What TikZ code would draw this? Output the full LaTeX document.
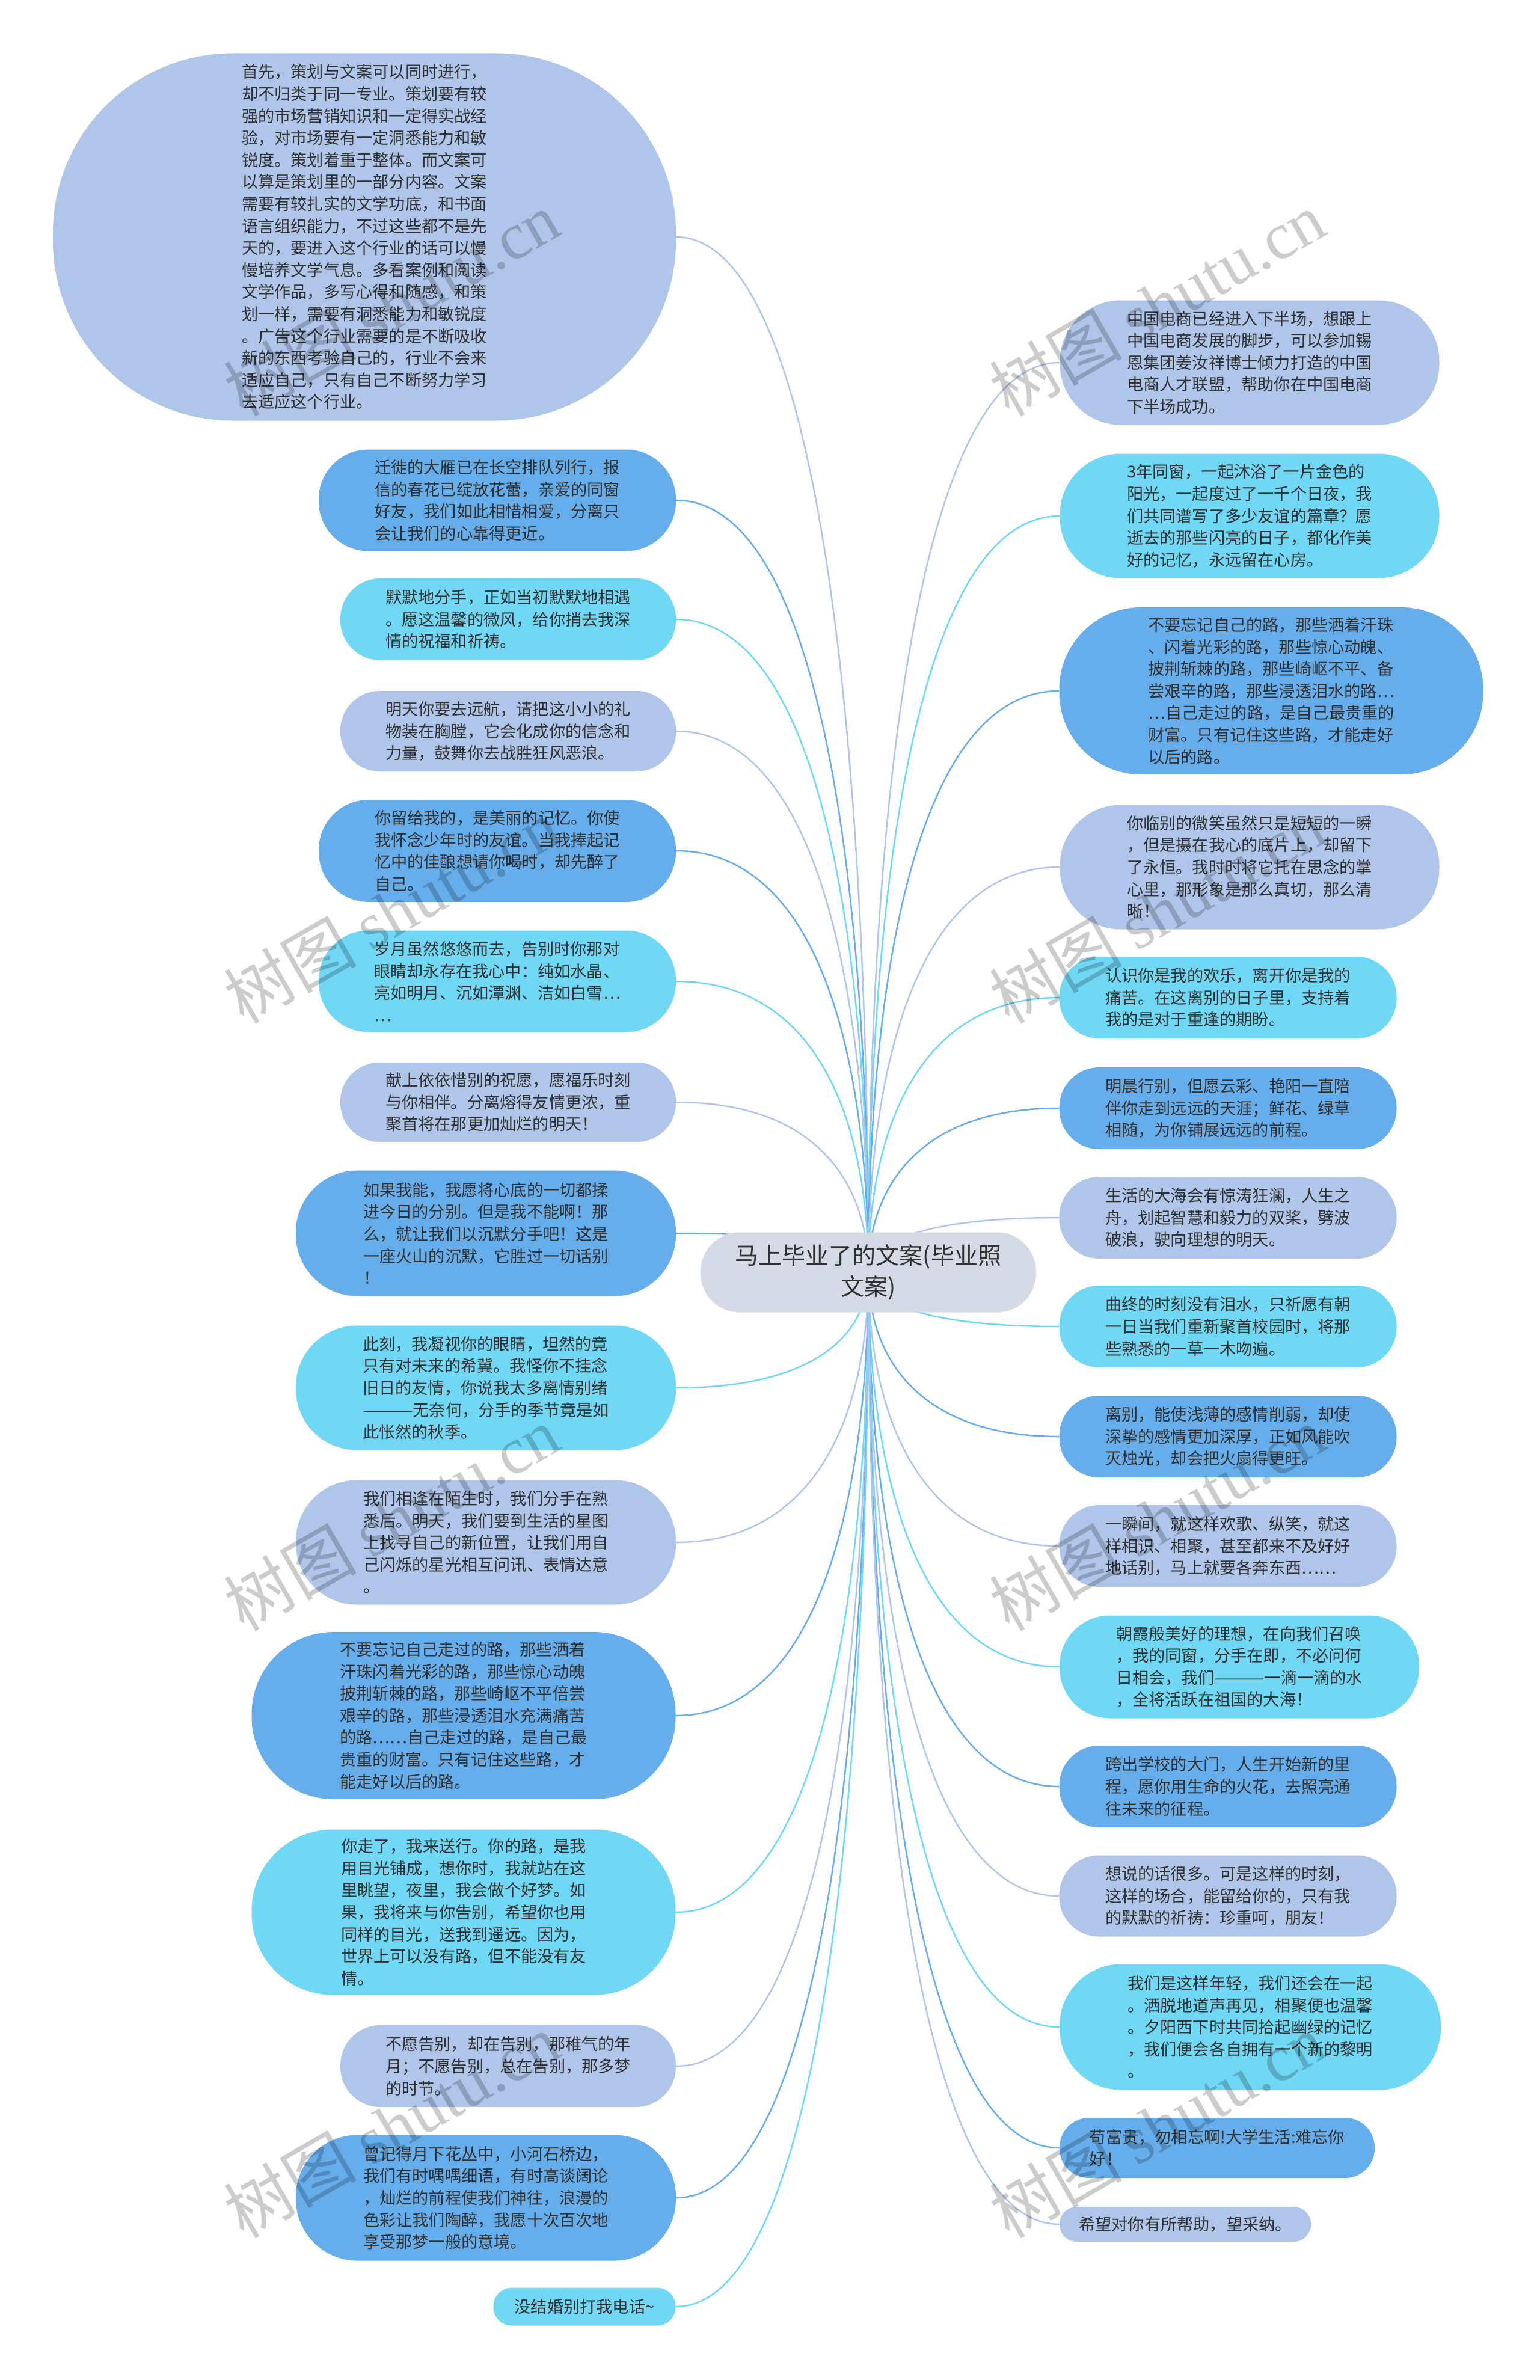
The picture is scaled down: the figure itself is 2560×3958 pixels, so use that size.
\documentclass[tikz,border=0pt]{standalone}
\usepackage{fontspec}
\usepackage{graphicx}
\setmainfont{Noto Sans CJK SC}
\newfontfamily\wmserif{Liberation Serif}
\usetikzlibrary{backgrounds,calc}
\definecolor{peri}{HTML}{AFC6EA}
\definecolor{mblue}{HTML}{66ADEC}
\definecolor{cyanb}{HTML}{70D8F5}
\definecolor{ctrc}{HTML}{D4DBE6}
\definecolor{txt}{HTML}{303030}
\newcommand\longdash{\scalebox{1.25}[1]{———}}
\begin{document}
\begin{tikzpicture}[x=1pt,y=-1pt,
  bub/.style n args={3}{fill=#3, inner sep=0pt, minimum width=#1pt, minimum height=#2pt,
    rounded corners=#2*0.49pt, align=left, text=txt, font=\fontsize{27.2}{36.6}\selectfont},
  link/.style={line width=2.5pt},
  wm/.style={rotate=30, text=black, text opacity=0.2, inner sep=0pt, font=\fontsize{110}{110}\selectfont}
]
\useasboundingbox (0,0) rectangle (2560,3958);

% centre
\node[bub={558}{133}{ctrc}, align=center, font=\fontsize{39}{52}\selectfont] (ctr) at (1444,2116) {马上毕业了的文案(毕业照\\文案)};

% left column
\node[bub={1036}{611}{peri}] (L1) at (606,394) {首先，策划与文案可以同时进行，\\却不归类于同一专业。策划要有较\\强的市场营销知识和一定得实战经\\验，对市场要有一定洞悉能力和敏\\锐度。策划着重于整体。而文案可\\以算是策划里的一部分内容。文案\\需要有较扎实的文学功底，和书面\\语言组织能力，不过这些都不是先\\天的，要进入这个行业的话可以慢\\慢培养文学气息。多看案例和阅读\\文学作品，多写心得和随感，和策\\划一样，需要有洞悉能力和敏锐度\\。广告这个行业需要的是不断吸收\\新的东西考验自己的，行业不会来\\适应自己，只有自己不断努力学习\\去适应这个行业。};
\node[bub={594}{169}{mblue}] (L2) at (827,832) {迁徙的大雁已在长空排队列行，报\\信的春花已绽放花蕾，亲爱的同窗\\好友，我们如此相惜相爱，分离只\\会让我们的心靠得更近。};
\node[bub={558}{136}{cyanb}] (L3) at (845,1030) {默默地分手，正如当初默默地相遇\\。愿这温馨的微风，给你捎去我深\\情的祝福和祈祷。};
\node[bub={558}{134}{peri}] (L4) at (845,1216) {明天你要去远航，请把这小小的礼\\物装在胸膛，它会化成你的信念和\\力量，鼓舞你去战胜狂风恶浪。};
\node[bub={594}{170}{mblue}] (L5) at (827,1415) {你留给我的，是美丽的记忆。你使\\我怀念少年时的友谊。当我捧起记\\忆中的佳酿想请你喝时，却先醉了\\自己。};
\node[bub={594}{169}{cyanb}] (L6) at (827,1632) {岁月虽然悠悠而去，告别时你那对\\眼睛却永存在我心中：纯如水晶、\\亮如明月、沉如潭渊、洁如白雪…\\…};
\node[bub={558}{132}{peri}] (L7) at (845,1833) {献上依依惜别的祝愿，愿福乐时刻\\与你相伴。分离熔得友情更浓，重\\聚首将在那更加灿烂的明天！};
\node[bub={632}{209}{mblue}] (L8) at (808,2051) {如果我能，我愿将心底的一切都揉\\进今日的分别。但是我不能啊！那\\么，就让我们以沉默分手吧！这是\\一座火山的沉默，它胜过一切话别\\！};
\node[bub={632}{207}{cyanb}] (L9) at (808,2308) {此刻，我凝视你的眼睛，坦然的竟\\只有对未来的希冀。我怪你不挂念\\旧日的友情，你说我太多离情别绪\\\longdash 无奈何，分手的季节竟是如\\此怅然的秋季。};
\node[bub={632}{207}{peri}] (L10) at (808,2565) {我们相逢在陌生时，我们分手在熟\\悉后。明天，我们要到生活的星图\\上找寻自己的新位置，让我们用自\\己闪烁的星光相互问讯、表情达意\\。};
\node[bub={705}{278}{mblue}] (L11) at (771,2853) {不要忘记自己走过的路，那些洒着\\汗珠闪着光彩的路，那些惊心动魄\\披荆斩棘的路，那些崎岖不平倍尝\\艰辛的路，那些浸透泪水充满痛苦\\的路……自己走过的路，是自己最\\贵重的财富。只有记住这些路，才\\能走好以后的路。};
\node[bub={705}{275}{cyanb}] (L12) at (771,3180) {你走了，我来送行。你的路，是我\\用目光铺成，想你时，我就站在这\\里眺望，夜里，我会做个好梦。如\\果，我将来与你告别，希望你也用\\同样的目光，送我到遥远。因为，\\世界上可以没有路，但不能没有友\\情。};
\node[bub={558}{136}{peri}] (L13) at (845,3436) {不愿告别，却在告别，那稚气的年\\月；不愿告别，总在告别，那多梦\\的时节。};
\node[bub={632}{209}{mblue}] (L14) at (808,3655) {曾记得月下花丛中，小河石桥边，\\我们有时喁喁细语，有时高谈阔论\\，灿烂的前程使我们神往，浪漫的\\色彩让我们陶醉，我愿十次百次地\\享受那梦一般的意境。};
\node[bub={303}{63}{cyanb}] (L15) at (972,3836) {没结婚别打我电话\textasciitilde};

% right column
\node[bub={631}{207}{peri}] (R1) at (2078,603) {中国电商已经进入下半场，想跟上\\中国电商发展的脚步，可以参加锡\\恩集团姜汝祥博士倾力打造的中国\\电商人才联盟，帮助你在中国电商\\下半场成功。};
\node[bub={631}{207}{cyanb}] (R2) at (2078,858) {3年同窗，一起沐浴了一片金色的\\阳光，一起度过了一千个日夜，我\\们共同谱写了多少友谊的篇章？愿\\逝去的那些闪亮的日子，都化作美\\好的记忆，永远留在心房。};
\node[bub={705}{278}{mblue}] (R3) at (2114,1149) {不要忘记自己的路，那些洒着汗珠\\、闪着光彩的路，那些惊心动魄、\\披荆斩棘的路，那些崎岖不平、备\\尝艰辛的路，那些浸透泪水的路…\\…自己走过的路，是自己最贵重的\\财富。只有记住这些路，才能走好\\以后的路。};
\node[bub={631}{207}{peri}] (R4) at (2078,1442) {你临别的微笑虽然只是短短的一瞬\\，但是摄在我心的底片上，却留下\\了永恒。我时时将它托在思念的掌\\心里，那形象是那么真切，那么清\\晰！};
\node[bub={561}{136}{cyanb}] (R5) at (2042,1659) {认识你是我的欢乐，离开你是我的\\痛苦。在这离别的日子里，支持着\\我的是对于重逢的期盼。};
\node[bub={561}{136}{mblue}] (R6) at (2042,1843) {明晨行别，但愿云彩、艳阳一直陪\\伴你走到远远的天涯；鲜花、绿草\\相随，为你铺展远远的前程。};
\node[bub={561}{136}{peri}] (R7) at (2042,2025) {生活的大海会有惊涛狂澜，人生之\\舟，划起智慧和毅力的双桨，劈波\\破浪，驶向理想的明天。};
\node[bub={561}{136}{cyanb}] (R8) at (2042,2206) {曲终的时刻没有泪水，只祈愿有朝\\一日当我们重新聚首校园时，将那\\些熟悉的一草一木吻遍。};
\node[bub={561}{136}{mblue}] (R9) at (2042,2389) {离别，能使浅薄的感情削弱，却使\\深挚的感情更加深厚，正如风能吹\\灭烛光，却会把火扇得更旺。};
\node[bub={561}{136}{peri}] (R10) at (2042,2571) {一瞬间，就这样欢歌、纵笑，就这\\样相识、相聚，甚至都来不及好好\\地话别，马上就要各奔东西……};
\node[bub={598}{171}{cyanb}] (R11) at (2061,2772) {朝霞般美好的理想，在向我们召唤\\，我的同窗，分手在即，不必问何\\日相会，我们\longdash 一滴一滴的水\\，全将活跃在祖国的大海！};
\node[bub={561}{136}{mblue}] (R12) at (2042,2971) {跨出学校的大门，人生开始新的里\\程，愿你用生命的火花，去照亮通\\往未来的征程。};
\node[bub={561}{135}{peri}] (R13) at (2042,3153) {想说的话很多。可是这样的时刻，\\这样的场合，能留给你的，只有我\\的默默的祈祷：珍重呵，朋友！};
\node[bub={634}{209}{cyanb}] (R14) at (2079,3371) {我们是这样年轻，我们还会在一起\\。洒脱地道声再见，相聚便也温馨\\。夕阳西下时共同拾起幽绿的记忆\\，我们便会各自拥有一个新的黎明\\。};
\node[bub={524}{100}{mblue}] (R15) at (2024,3572) {苟富贵，勿相忘啊!大学生活:难忘你\\好！};
\node[bub={418}{58}{peri}] (R16) at (1971,3699) {希望对你有所帮助，望采纳。};

% connectors
\begin{pgfonlayer}{background}
\fill[white] (0,0) rectangle (2560,3958);
\foreach \n/\c in {L1/peri,L2/mblue,L3/cyanb,L4/peri,L5/mblue,L6/cyanb,L7/peri,L8/mblue,L9/cyanb,L10/peri,L11/mblue,L12/cyanb,L13/peri,L14/mblue,L15/cyanb}
  \draw[link,\c] (ctr.center) .. controls ($(ctr.center)!0.5!(ctr.center |- \n.east)$) and ($(\n.east)!0.75!(ctr.center |- \n.east)$) .. (\n.east);
\foreach \n/\c in {R1/peri,R2/cyanb,R3/mblue,R4/peri,R5/cyanb,R6/mblue,R7/peri,R8/cyanb,R9/mblue,R10/peri,R11/cyanb,R12/mblue,R13/peri,R14/cyanb,R15/mblue,R16/peri}
  \draw[link,\c] (ctr.center) .. controls ($(ctr.center)!0.5!(ctr.center |- \n.west)$) and ($(\n.west)!0.75!(ctr.center |- \n.west)$) .. (\n.west);
\end{pgfonlayer}

% watermarks
\foreach \y [count=\i] in {505,1515,2525,3535} {
  \node[wm] (wl\i) at (651,\y) {树图 {\wmserif shutu.cn}};
  \node[wm] (wr\i) at (1924,\y) {树图 {\wmserif shutu.cn}};
}
\end{tikzpicture}
\end{document}
